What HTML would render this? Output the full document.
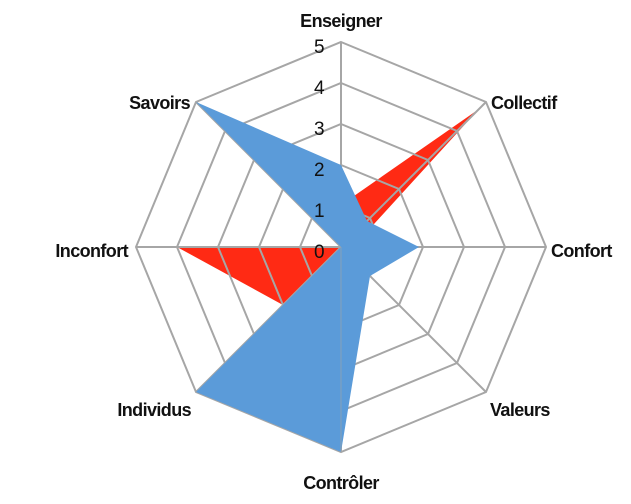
<!DOCTYPE html>
<html><head><meta charset="utf-8"><style>
html,body{margin:0;padding:0;background:#fff;}
svg text{font-family:"Liberation Sans",sans-serif;font-size:18px;font-weight:bold;fill:#111;letter-spacing:-0.6px}
svg text.n{font-weight:normal;font-size:19px;letter-spacing:0}
</style></head><body>
<svg width="631" height="499" viewBox="0 0 631 499" xmlns="http://www.w3.org/2000/svg">
<polygon points="341,205 479,109 353,247 341,247 283,305 177,247 341,247" fill="#ff2a14"/>
<g fill="none" stroke="#a6a6a6" stroke-width="2">
<polygon points="341,42 486,102 546,247 486,392 341,452 196,392 136,247 196,102"/>
<polygon points="341,83 457,131 505,247 457,363 341,411 225,363 177,247 225,131"/>
<polygon points="341,124 428,160 464,247 428,334 341,370 254,334 218,247 254,160"/>
<polygon points="341,165 399,189 423,247 399,305 341,329 283,305 259,247 283,189"/>
<polygon points="341,206 370,218 382,247 370,276 341,288 312,276 300,247 312,218"/>
<line x1="341" y1="247" x2="341" y2="42"/><line x1="341" y1="247" x2="486" y2="102"/>
<line x1="341" y1="247" x2="546" y2="247"/><line x1="341" y1="247" x2="486" y2="392"/>
<line x1="341" y1="247" x2="341" y2="452"/><line x1="341" y1="247" x2="196" y2="392"/>
<line x1="341" y1="247" x2="136" y2="247"/><line x1="341" y1="247" x2="196" y2="102"/>
</g>
<polygon points="341,165 367,221 419,247 370,276 341,452 196,392 341,247 196,102" fill="#5b9bd9"/>
<g fill="none" stroke="#a6a6a6" stroke-width="1.2" opacity="0.5">
<line x1="341" y1="247" x2="341" y2="452"/>
</g>
<text class="n" x="314" y="53">5</text><text class="n" x="314" y="94">4</text><text class="n" x="314" y="135">3</text>
<text class="n" x="314" y="176">2</text><text class="n" x="314" y="217">1</text><text class="n" x="314" y="258">0</text>
<text x="341" y="27" text-anchor="middle">Enseigner</text>
<text x="491" y="109">Collectif</text>
<text x="551" y="257">Confort</text>
<text x="490" y="416">Valeurs</text>
<text x="341" y="489" text-anchor="middle">Contrôler</text>
<text x="191" y="416" text-anchor="end">Individus</text>
<text x="128" y="257" text-anchor="end">Inconfort</text>
<text x="190" y="109" text-anchor="end">Savoirs</text>
</svg>
</body></html>
